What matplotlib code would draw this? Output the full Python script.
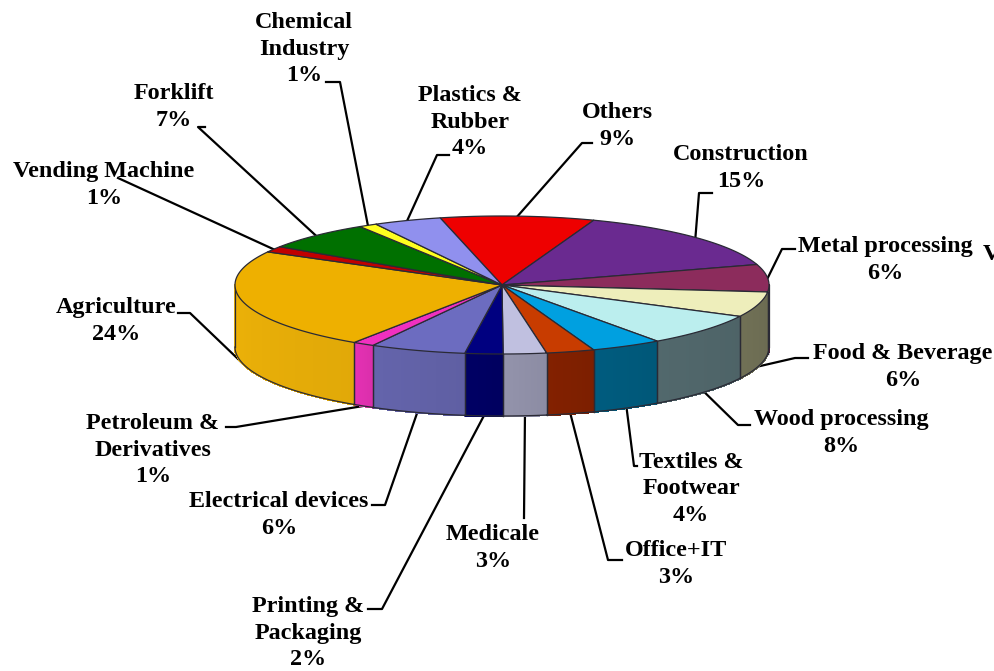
import numpy as np
import matplotlib
matplotlib.use("Agg")
import matplotlib.pyplot as plt
from matplotlib.collections import PolyCollection
from matplotlib.colors import to_rgb

plt.rcParams['font.family'] = ['Liberation Serif', 'DejaVu Serif']

categories = ["Others", "Construction", "Metal processing", "Food & Beverage", "Wood processing",
              "Textiles &\nFootwear", "Office+IT", "Medicale", "Printing &\nPackaging",
              "Electrical devices", "Petroleum &\nDerivatives", "Agriculture", "Vending Machine",
              "Forklift", "Chemical\nIndustry", "Plastics &\nRubber"]
values = [9.3, 14.6, 6.4, 5.9, 7.6, 4.3, 2.9, 2.6, 2.3, 5.8, 1.3, 23.6, 1.4, 6.7, 1.1, 4.1]
percent_labels = [9, 15, 6, 6, 8, 4, 3, 3, 2, 6, 1, 24, 1, 7, 1, 4]
top_colors = ["#EE0000", "#6A2A90", "#8C2C5C", "#EEEEBB", "#BBEEEE", "#00A0E0", "#C83C00", "#C0C0E0",
              "#000080", "#6C6CC0", "#F030C0", "#EEB000", "#C00000", "#007000", "#FFFF20", "#9090EE"]
side_colors = ["#A00000", "#4A1C64", "#5E1E3E", "#6E6E54", "#50666A", "#005A7C", "#802000", "#9090A8",
               "#000062", "#6262A8", "#E030B0", "#E8AE08", "#800000", "#004C00", "#A0A010", "#6060A0"]

# layout (pixel space)
CX, CY, RX, RY, DEPTH = 502, 285, 267, 69, 62
START = 103.4
label_xy = [(617, 126), (741, 168), (885, 260), (903, 367), (841, 433), (691, 489), (676, 564),
            (493, 548), (308, 633), (279, 515), (153, 450), (116, 321), (104, 185), (174, 107),
            (304, 49), (470, 122)]
elbows = [[(582, 143), (592, 143)], [(699, 193), (712, 193)], [(782, 249), (795, 249)],
          [(795, 358), (808, 358)], [(738, 425), (750, 425)], [(634, 466), (637, 466)],
          [(608, 560), (622, 560)], [(524, 518)], [(382, 609), (368, 609)], [(385, 505), (372, 505)],
          [(236, 427), (226, 427)], [(190, 313), (178, 313)], [(118, 178)], [(198, 127), (205, 127)],
          [(340, 82), (326, 82)], [(437, 155), (449, 155)]]

fig = plt.figure(figsize=(9.94, 6.71), dpi=100)
ax = fig.add_axes([0, 0, 1, 1])
ax.set_xlim(0, 994)
ax.set_ylim(671, 0)
ax.axis("off")


def rim(t, drop=0.0):
    t = np.radians(t)
    return CX + RX * np.cos(t), CY - RY * np.sin(t) + drop


vals = np.array(values, float)
sweeps = vals / vals.sum() * 360
starts = START - np.concatenate([[0], np.cumsum(sweeps)[:-1]])
ends = starts - sweeps
EDGE = "#2A2A35"

# side walls
for a0, a1, sc in zip(starts, ends, side_colors):
    for shift in (0, -360):
        hi, lo = min(a0 + shift, 0), max(a1 + shift, -180)
        if hi <= lo:
            continue
        ts = np.linspace(hi, lo, 30)
        base = np.array(to_rgb(sc))
        quads, cols = [], []
        for i in range(len(ts) - 1):
            x0, y0 = rim(ts[i])
            x1, y1 = rim(ts[i + 1])
            quads.append([(x0, y0), (x1, y1), (x1, y1 + DEPTH), (x0, y0 + DEPTH)])
            f = (i + 0.5) / (len(ts) - 1)
            cols.append(np.clip(base * (0.97 + 0.05 * f), 0, 1))
        ax.add_collection(PolyCollection(quads, facecolors=cols, edgecolors=cols, linewidths=1.0,
                                         antialiaseds=False, zorder=2))
        ta = np.linspace(hi, lo, 80)
        xa, ya = rim(ta)
        ax.plot(xa, ya + DEPTH, color=EDGE, lw=0.9, zorder=3)
        for t in (hi, lo):
            xv, yv = rim(t)
            ax.plot([xv, xv], [yv, yv + DEPTH], color=EDGE, lw=0.9, zorder=3)

# top faces
for a0, a1, tc in zip(starts, ends, top_colors):
    ts = np.linspace(a0, a1, 90)
    xs, ys = rim(ts)
    ax.fill(np.r_[CX, xs], np.r_[CY, ys], facecolor=tc, edgecolor=EDGE, lw=0.9, joinstyle="round", zorder=4)

# leader lines and labels
for name, pct, a0, a1, pos, bend in zip(categories, percent_labels, starts, ends, label_xy, elbows):
    mid = (a0 + a1) / 2
    drop = DEPTH if np.sin(np.radians(mid)) < -0.2 else 0
    x0, y0 = rim(mid, drop)
    lx = [x0] + [p[0] for p in bend]
    ly = [y0] + [p[1] for p in bend]
    ax.plot(lx, ly, color="black", lw=1.6, solid_joinstyle="round", zorder=1)
    ax.text(pos[0], pos[1], f"{name}\n{pct}%", ha="center", va="center", fontsize=17.4,
            fontweight="bold", color="black", linespacing=1.36, zorder=5)

ax.text(983, 254, "V", ha="left", va="center", fontsize=17.4, fontweight="bold", color="black", zorder=5)

fig.savefig("out.png", dpi=100)
